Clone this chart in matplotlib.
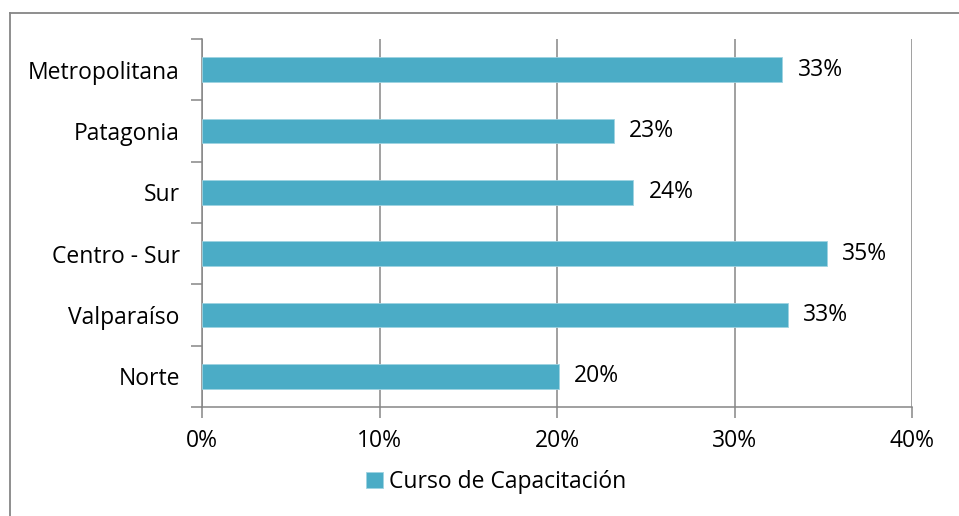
import matplotlib
matplotlib.use("Agg")
import matplotlib.pyplot as plt
import numpy as np
from matplotlib.lines import Line2D
from matplotlib.ticker import FixedLocator

# ── Data ──────────────────────────────────────────────────────────────────────
regions = ["Metropolitana", "Patagonia", "Sur", "Centro - Sur", "Valparaíso", "Norte"]
pct     = [32.7, 23.2, 24.3, 35.2, 33.0, 20.1]
xticks  = [0, 10, 20, 30, 40]
series  = "Curso de Capacitación"

BAR   = "#4BACC6"
GRID  = "#868686"
FONT  = "Open Sans"
FS    = 16.5

plt.rcParams.update({"font.family": [FONT, "DejaVu Sans"], "font.size": FS})

W, H = 959, 516
fig = plt.figure(figsize=(W / 100, H / 100), dpi=100)

# outer chart border (only left/top visible in the crop)
bx, by = 10 / W, 1 - 13 / H
fig.lines.append(Line2D([bx, bx], [0, by], transform=fig.transFigure, color=GRID, linewidth=1.3))
fig.lines.append(Line2D([bx, 1], [by, by], transform=fig.transFigure, color=GRID, linewidth=1.3))

ax = fig.add_axes([202 / W, 1 - 407 / H, 710 / W, 368 / H])

y = np.arange(len(regions))
ax.barh(y, pct, height=0.4, color=BAR, edgecolor="#9fd3e1", linewidth=0.6,
        label=series, zorder=3)

for yi, v in zip(y, pct):
    ax.text(v + 0.85, yi, f"{v:.0f}%", va="center", ha="left", fontsize=FS, color="black")

ax.set_xlim(0, 40)
ax.set_ylim(len(regions) - 0.5, -0.5)
ax.set_xticks(xticks)
ax.set_xticklabels([f"{t}%" for t in xticks])
ax.set_yticks(y)
ax.set_yticklabels(regions)
ax.yaxis.set_minor_locator(FixedLocator(np.arange(-0.5, len(regions), 1)))
ax.tick_params(axis="y", which="major", length=0, pad=16)
ax.tick_params(axis="y", which="minor", length=8, width=1.1, color=GRID)
ax.tick_params(axis="x", length=8, width=1.1, color=GRID, pad=8)

ax.grid(True, axis="x", color=GRID, linewidth=1.1, zorder=0)
for s in ("top", "right"):
    ax.spines[s].set_visible(False)
for s in ("left", "bottom"):
    ax.spines[s].set_color(GRID)
    ax.spines[s].set_linewidth(1.1)

fig.legend(loc="center", bbox_to_anchor=(496 / W, 1 - 482 / H), frameon=False,
           handlelength=0.75, handleheight=0.75, handletextpad=0.25, fontsize=FS)

fig.savefig("out.png", dpi=100)
